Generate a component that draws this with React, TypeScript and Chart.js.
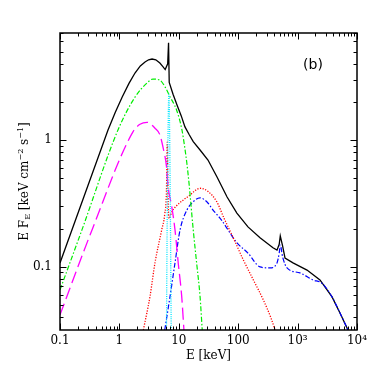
import React, { useEffect, useRef } from "react";
import { Chart, registerables } from "chart.js";

Chart.register(...registerables);

// ---- data (E in keV, E*F_E in keV cm^-2 s^-1) ----
const totalE = [0.1, 0.643, 0.85, 1.11, 1.45, 1.83, 2.25, 2.7, 3.1, 3.54, 4.1, 4.8, 5.4, 5.9, 6.5, 6.72, 6.9, 8.0, 9.5, 11, 12.7, 15, 17.5, 22.8, 31, 44, 65, 95, 146, 233, 385, 450, 490, 511, 560, 614, 837, 1440, 2380, 3800, 5170, 7050];
const totalF = [0.107, 1.2, 1.65, 2.18, 2.8, 3.38, 3.85, 4.13, 4.3, 4.36, 4.3, 4.05, 3.8, 3.6, 4.0, 5.85, 2.85, 2.3, 1.85, 1.55, 1.27, 1.1, 0.97, 0.834, 0.695, 0.51, 0.355, 0.265, 0.206, 0.169, 0.141, 0.135, 0.15, 0.175, 0.145, 0.117, 0.107, 0.094, 0.0785, 0.0577, 0.0431, 0.0316];

const greenE = [0.1, 0.234, 0.946, 1.83, 2.92, 3.66, 4.8, 5.86, 7.1, 9.2, 11.3, 12.7, 13.7, 14.9, 16.0, 17.5, 20.0, 22.8, 24.8];
const greenF = [0.0655, 0.195, 1.2, 2.18, 2.82, 3.03, 2.97, 2.63, 2.2, 1.72, 1.2, 0.85, 0.65, 0.45, 0.31, 0.195, 0.106, 0.058, 0.0316];

const magentaE = [0.1, 0.346, 1.69, 2.22, 2.92, 3.97, 4.8, 5.5, 6.2, 6.6, 7.6, 8.63, 9.8, 11.2, 12.2];
const magentaF = [0.0416, 0.195, 1.16, 1.33, 1.38, 1.24, 1.1, 0.85, 0.62, 0.43, 0.3, 0.195, 0.106, 0.058, 0.0316];

const cyanE = [6.2, 6.4, 6.6, 6.8, 7.0, 7.2, 7.45];
const cyanF = [0.0316, 0.3, 1.2, 2.3, 1.2, 0.3, 0.0316];

const redE = [2.53, 3.27, 3.97, 5.15, 5.8, 6.2, 6.4, 6.6, 6.9, 7.6, 9.0, 11.8, 15.5, 19, 22.8, 31.4, 43.5, 58, 83, 122, 180, 265, 366, 417];
const redF = [0.0316, 0.058, 0.107, 0.195, 0.26, 0.4, 0.96, 0.35, 0.24, 0.27, 0.3, 0.335, 0.368, 0.4, 0.416, 0.391, 0.326, 0.24, 0.168, 0.113, 0.0785, 0.0546, 0.038, 0.0316];

const blueE = [5.8, 7.1, 8.63, 10.5, 13.7, 17.3, 22.8, 29.9, 37.7, 52, 95.5, 146, 233, 343, 450, 490, 511, 560, 664, 1097, 1816, 2570, 3800, 5170, 7050];
const blueF = [0.0316, 0.0577, 0.107, 0.195, 0.28, 0.324, 0.349, 0.324, 0.28, 0.234, 0.154, 0.128, 0.0995, 0.0977, 0.107, 0.128, 0.148, 0.119, 0.0977, 0.0892, 0.0785, 0.074, 0.0577, 0.0431, 0.0316];

const xTickValues = [0.1, 1, 10, 100, 1000, 10000];
const xTickLabels = ["0.1", "1", "10", "100", "10³", "10⁴"];
const yTickValues = [0.1, 1];
const yTickLabels = ["0.1", "1"];
const xTitle = "E [keV]";
const panelLabel = "(b)";

const X_MIN = 0.1, X_MAX = 10000, Y_MIN = 0.0316, Y_MAX = 7;

const SERIF = "'DejaVu Serif', 'Liberation Serif', serif";

function pts(e: number[], f: number[]) {
  return e.map((v, i) => ({ x: v, y: f[i] }));
}

const axesPlugin = {
  id: "axesFrame",
  afterDraw(chart: any) {
    const { ctx, chartArea: a, scales } = chart;
    const xs = scales.x, ys = scales.y;
    ctx.save();
    ctx.strokeStyle = "#000";
    ctx.lineWidth = 1;
    const ln = (x1: number, y1: number, x2: number, y2: number) => {
      ctx.beginPath(); ctx.moveTo(x1, y1); ctx.lineTo(x2, y2); ctx.stroke();
    };
    for (let d = -2; d <= 4; d++) {
      for (let m = 1; m <= 9; m++) {
        const v = m * Math.pow(10, d);
        const len = m === 1 ? 6.5 : 3.5;
        if (v >= X_MIN * 0.999 && v <= X_MAX * 1.001) {
          const px = Math.round(xs.getPixelForValue(v)) + 0.5;
          ln(px, a.bottom, px, a.bottom - len);
          ln(px, a.top, px, a.top + len);
        }
        if (v >= Y_MIN * 0.999 && v <= Y_MAX * 1.001) {
          const py = Math.round(ys.getPixelForValue(v)) + 0.5;
          ln(a.left, py, a.left + len, py);
          ln(a.right, py, a.right - len, py);
        }
      }
    }
    ctx.lineWidth = 1.5;
    ctx.strokeRect(a.left, a.top, a.right - a.left, a.bottom - a.top);

    ctx.fillStyle = "#000";
    ctx.font = `12px ${SERIF}`;
    ctx.textAlign = "center";
    ctx.textBaseline = "middle";
    xTickValues.forEach((v, i) => {
      ctx.fillText(xTickLabels[i], xs.getPixelForValue(v), a.bottom + 11);
    });
    ctx.textAlign = "right";
    yTickValues.forEach((v, i) => {
      ctx.fillText(yTickLabels[i], a.left - 8, ys.getPixelForValue(v));
    });
    ctx.textAlign = "center";
    ctx.fillText(xTitle, (a.left + a.right) / 2, a.bottom + 26);

    // y title with sub/superscripts
    const parts: { t: string; k: string }[] = [
      { t: "E F", k: "n" },
      { t: "E", k: "sub" },
      { t: " [keV cm", k: "n" },
      { t: "−2", k: "sup" },
      { t: " s", k: "n" },
      { t: "−1", k: "sup" },
      { t: "]", k: "n" },
    ];
    const fontFor = (k: string) => (k === "n" ? `12px ${SERIF}` : `8px ${SERIF}`);
    let total = 0;
    parts.forEach((p) => { ctx.font = fontFor(p.k); total += ctx.measureText(p.t).width; });
    ctx.save();
    ctx.translate(25, (a.top + a.bottom) / 2);
    ctx.rotate(-Math.PI / 2);
    ctx.textAlign = "left";
    let x = -total / 2;
    parts.forEach((p) => {
      ctx.font = fontFor(p.k);
      const dy = p.k === "sub" ? 3 : p.k === "sup" ? -4 : 0;
      ctx.fillText(p.t, x, dy);
      x += ctx.measureText(p.t).width;
    });
    ctx.restore();

    ctx.font = "14px 'DejaVu Sans', 'Liberation Sans', sans-serif";
    ctx.textAlign = "center";
    ctx.fillText(panelLabel, 313, 65);
    ctx.restore();
  },
};

export default function App() {
  const ref = useRef<HTMLCanvasElement | null>(null);
  useEffect(() => {
    if (!ref.current) return;
    const ds = (e: number[], f: number[], color: string, width: number, dash: number[], smooth: boolean) => ({
      data: pts(e, f),
      borderColor: color,
      borderWidth: width,
      borderDash: dash,
      pointRadius: 0,
      fill: false,
      tension: 0,
      cubicInterpolationMode: smooth ? "monotone" : "default",
    });
    const chart = new Chart(ref.current, {
      type: "line",
      data: {
        datasets: [
          ds(cyanE, cyanF, "#00e5ff", 1.3, [1, 1.2], true),
          ds(magentaE, magentaF, "#ff00ff", 1.3, [12, 5], true),
          ds(greenE, greenF, "#00ee00", 1.2, [5, 2, 1.5, 2], true),
          ds(redE, redF, "#ff0000", 1.3, [1.2, 1.5], true),
          ds(blueE, blueF, "#0000ff", 1.2, [5, 2, 1.5, 2], true),
          ds(totalE, totalF, "#000000", 1.3, [], false),
        ] as any,
      },
      options: {
        responsive: false,
        animation: false,
        devicePixelRatio: 1,
        events: [],
        layout: { padding: { top: 33, right: 33, left: 0, bottom: 0 } },
        plugins: { legend: { display: false }, tooltip: { enabled: false } },
        scales: {
          x: {
            type: "logarithmic",
            min: X_MIN,
            max: X_MAX,
            ticks: { display: false },
            grid: { display: false, drawTicks: false },
            border: { display: false },
            afterFit: (s: any) => { s.height = 60; },
          },
          y: {
            type: "logarithmic",
            min: Y_MIN,
            max: Y_MAX,
            ticks: { display: false },
            grid: { display: false, drawTicks: false },
            border: { display: false },
            afterFit: (s: any) => { s.width = 60; },
          },
        },
      } as any,
      plugins: [axesPlugin],
    });
    return () => chart.destroy();
  }, []);
  return (
    <div style={{ position: "absolute", left: 0, top: 0, width: 390, height: 390, background: "#fff" }}>
      <canvas ref={ref} width={390} height={390} style={{ display: "block" }} />
    </div>
  );
}
